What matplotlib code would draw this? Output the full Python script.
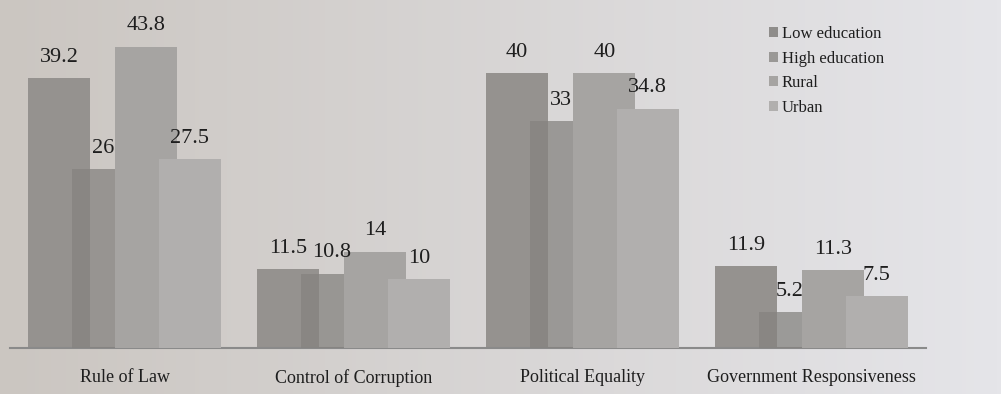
import numpy as np
import matplotlib
matplotlib.use('Agg')
import matplotlib.pyplot as plt
from matplotlib.patches import Patch

plt.rcParams['font.family'] = ['Liberation Serif', 'DejaVu Serif']

categories = ['Rule of Law', 'Control of Corruption', 'Political Equality',
              'Government Responsiveness']
series = ['Low education', 'High education', 'Rural', 'Urban']
low_education = [39.2, 11.5, 40, 11.9]
high_education = [26, 10.8, 33, 5.2]
rural = [43.8, 14, 40, 11.3]
urban = [27.5, 10, 34.8, 7.5]
values = [low_education, high_education, rural, urban]

colors = ['#95928f', '#858380', '#a6a4a2', '#b1afae']
alphas = [1.0, 0.75, 1.0, 1.0]

fig = plt.figure(figsize=(10.01, 3.94), dpi=100)

# paper-toned backdrop, warmer/darker on the left
bg = fig.add_axes([0, 0, 1, 1], zorder=0)
grad = np.linspace(0, 1, 256)
c_left = np.array([203, 198, 193]) / 255
c_right = np.array([229, 229, 233]) / 255
img = c_left[None, None, :] * (1 - grad[None, :, None]) + c_right[None, None, :] * grad[None, :, None]
bg.imshow(img, aspect='auto', extent=[0, 1, 0, 1])
bg.set_axis_off()

ax = fig.add_axes([10 / 1001, 46 / 394, 916 / 1001, 348 / 394], zorder=1)
ax.patch.set_alpha(0)

x = np.arange(len(categories))
width = 0.27
step = 0.19

for i, (name, vals) in enumerate(zip(series, values)):
    pos = x + (i - 1.5) * step
    ax.bar(pos, vals, width, color=colors[i], alpha=alphas[i], label=name,
           linewidth=0, zorder=2 + i)
    for xp, v in zip(pos, vals):
        ax.annotate(f'{v:g}', (xp, v), xytext=(0, 15), textcoords='offset points',
                    ha='center', va='center', fontsize=16, color='#1e1e1e', zorder=10)

ax.set_xlim(-0.5, 3.5)
ax.set_ylim(0, 50.6)
ax.set_xticks(x)
ax.set_xticklabels(categories, fontsize=13, color='#1e1e1e')
ax.tick_params(axis='x', length=0, pad=15)
ax.set_yticks([])
for side in ['top', 'right', 'left']:
    ax.spines[side].set_visible(False)
ax.spines['bottom'].set_color('#8a8a8a')
ax.spines['bottom'].set_linewidth(1.5)

handles = [Patch(facecolor=c, edgecolor='none') for c in ['#8f8d8b', '#9a9896', '#a6a4a2', '#b1afae']]
fig.legend(handles, series, loc='upper left', bbox_to_anchor=(769 / 1001, 1 - 26 / 394),
           frameon=False, fontsize=12, handlelength=0.55, handleheight=0.55,
           handletextpad=0.2, labelspacing=0.52, borderaxespad=0, borderpad=0,
           labelcolor='#1e1e1e')

fig.savefig('out.png', dpi=100)
